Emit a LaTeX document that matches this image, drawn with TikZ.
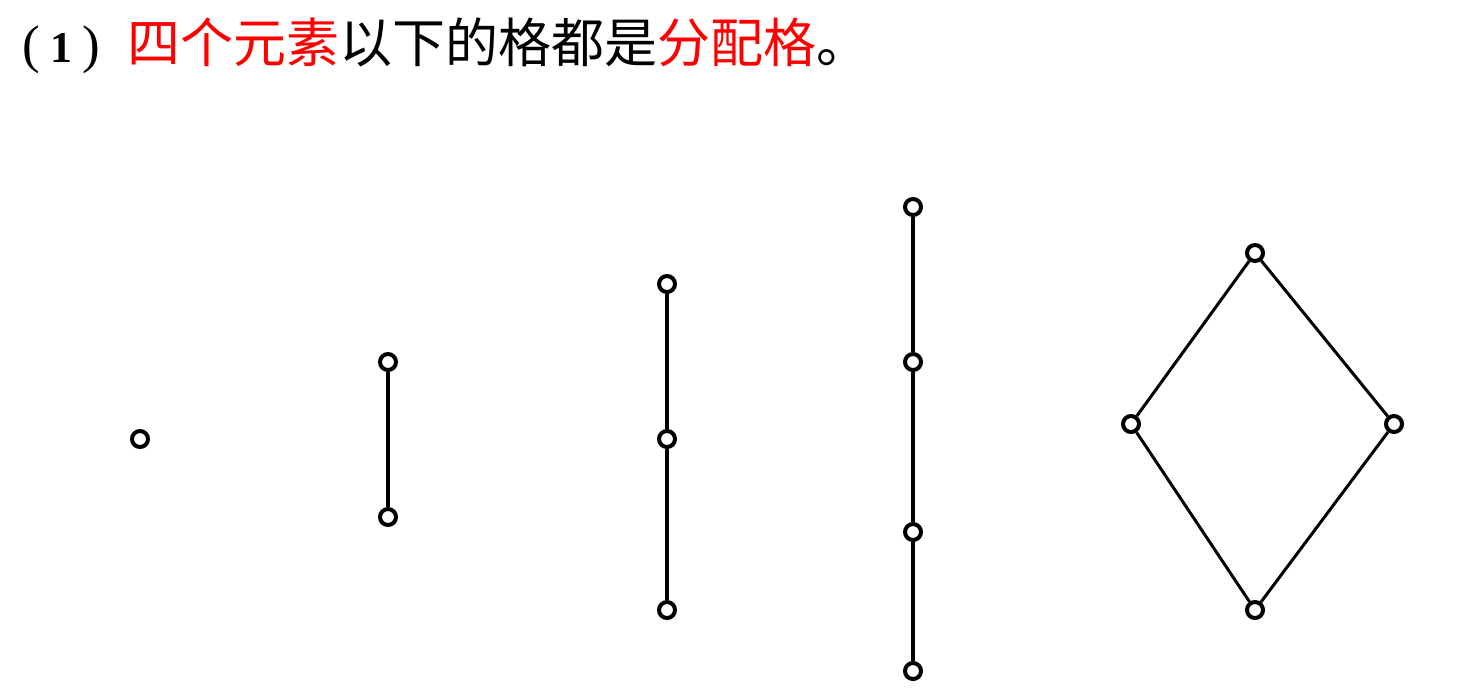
\documentclass[tikz,border=0pt]{standalone}
\usepackage{fontspec}
\setmainfont{Liberation Serif}
\newfontfamily\cjk{Noto Sans CJK SC}
\usetikzlibrary{positioning}

\tikzset{
  vtx/.style={circle, draw=black, fill=white, line width=2pt, inner sep=0pt, minimum size=8pt},
  edge/.style={black, line width=1.8pt},
  dedge/.style={black, line width=1.5pt}
}

\begin{document}
\begin{tikzpicture}[x=0.5pt,y=-0.5pt]
    \fill[white] (0,0) rectangle (1477,692);
    \useasboundingbox (0,0) rectangle (1477,692);

    % title
    \node[anchor=west, inner sep=0pt, font=\fontsize{26.5pt}{30pt}\selectfont] (title) at (22,46)
      {(\kern5pt{\fontsize{22pt}{26pt}\selectfont\textbf{1}}\kern5pt)\kern14pt{\cjk\textcolor{red}{四个元素}以下的格都是\textcolor{red}{分配格}。}};

    % one element
    \node[vtx] (a1) at (140,439) {};

    % two element chain
    \node[vtx] (b2) at (388,362) {};
    \node[vtx] (b1) at (388,517) {};
    \draw[edge] (b1) -- (b2);

    % three element chain
    \node[vtx] (c3) at (667,284) {};
    \node[vtx] (c2) at (667,439) {};
    \node[vtx] (c1) at (667,610) {};
    \draw[edge] (c1) -- (c2) -- (c3);

    % four element chain
    \node[vtx] (d4) at (913,207) {};
    \node[vtx] (d3) at (913,362) {};
    \node[vtx] (d2) at (913,532) {};
    \node[vtx] (d1) at (913,671) {};
    \draw[edge] (d1) -- (d2) -- (d3) -- (d4);

    % diamond
    \node[vtx] (e4) at (1255,253) {};
    \node[vtx] (e2) at (1131,424) {};
    \node[vtx] (e3) at (1394,424) {};
    \node[vtx] (e1) at (1255,610) {};
    \draw[dedge] (e1) -- (e2) -- (e4) -- (e3) -- (e1);
  \end{tikzpicture}
\end{document}
